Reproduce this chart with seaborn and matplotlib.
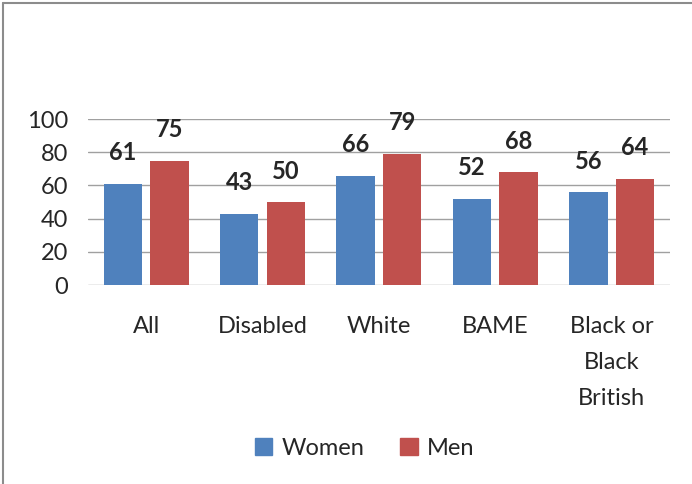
import matplotlib
matplotlib.use("Agg")
import matplotlib.pyplot as plt
from matplotlib.lines import Line2D
import seaborn as sns
import pandas as pd

# datos del gráfico
categorias = ["All", "Disabled", "White", "BAME", "Black or\nBlack\nBritish"]
mujeres = [61, 43, 66, 52, 56]
hombres = [75, 50, 79, 68, 64]
series = ["Women", "Men"]
colores = ["#4F81BD", "#C0504D"]

df = pd.DataFrame({
    "categoria": categorias * 2,
    "valor": mujeres + hombres,
    "serie": [series[0]] * len(categorias) + [series[1]] * len(categorias),
})

sns.set_theme(style="white")
plt.rcParams["font.family"] = ["Lato", "DejaVu Sans"]

fig = plt.figure(figsize=(6.92, 4.84), dpi=100)
ax = fig.add_axes([0.127, 0.411, 0.841, 0.343])

sns.barplot(data=df, x="categoria", y="valor", hue="serie",
            palette=colores, width=0.8, gap=0.175, saturation=1,
            linewidth=0, ax=ax)

# etiquetas en negrita por encima de cada barra
for cont in ax.containers:
    for barra in cont:
        x = barra.get_x() + barra.get_width() / 2
        y = barra.get_height()
        ax.annotate(f"{y:.0f}", (x, y), xytext=(0, 14), textcoords="offset points",
                    ha="center", va="bottom", fontsize=17, fontweight="bold")

ax.set_ylim(0, 100)
ax.set_yticks(range(0, 101, 20))
ax.set_xlim(-0.5, len(categorias) - 0.5)
ax.grid(axis="y", color="#A0A0A0", linewidth=1)
ax.set_axisbelow(True)
for s in ax.spines.values():
    s.set_visible(False)
ax.tick_params(axis="y", length=0, pad=14, labelsize=17)
ax.tick_params(axis="x", length=0, pad=22, labelsize=17)
for t in ax.get_xticklabels():
    t.set_linespacing(1.9)
    t.set_verticalalignment("top")
ax.set_xlabel("")
ax.set_ylabel("")

ax.legend_.remove()
handles = [plt.Rectangle((0, 0), 1, 1, color=c) for c in colores]
fig.legend(handles, series, loc="center", bbox_to_anchor=(0.527, 0.074),
           ncol=2, frameon=False, fontsize=17, handlelength=0.75,
           handleheight=0.75, handletextpad=0.4, columnspacing=1.5)

# borde gris del área del gráfico (solo izquierda y arriba visibles)
fig.add_artist(Line2D([0.004, 0.004], [0, 0.994], color="#8C8C8C", linewidth=1.5,
                      transform=fig.transFigure))
fig.add_artist(Line2D([0.004, 1], [0.994, 0.994], color="#8C8C8C", linewidth=1.5,
                      transform=fig.transFigure))

fig.savefig("out.png", dpi=100)
plt.close(fig)
